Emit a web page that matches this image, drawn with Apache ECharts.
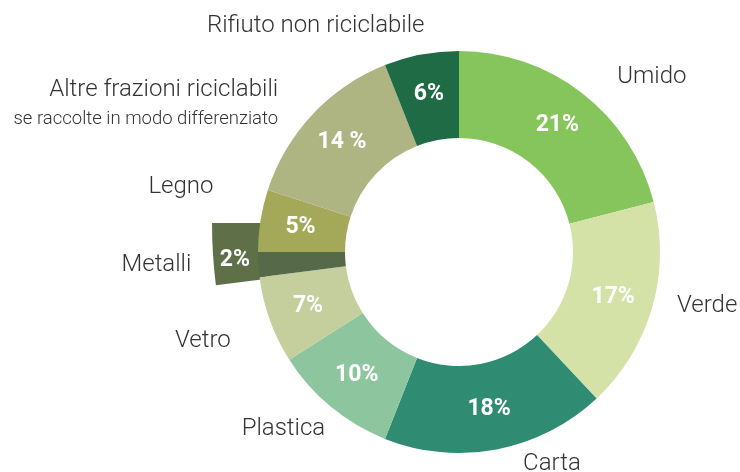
<!DOCTYPE html>
<html>
<head>
<meta charset="utf-8">
<script src="https://cdn.jsdelivr.net/npm/echarts@6/dist/echarts.min.js"></script>
<style>
  html, body { margin: 0; padding: 0; background: #fff; }
  #chart { width: 740px; height: 472px; }
</style>
</head>
<body>
<div id="chart"></div>
<script>
const categories = ['Umido', 'Verde', 'Carta', 'Plastica', 'Vetro', 'Metalli', 'Legno', 'Altre frazioni riciclabili', 'Rifiuto non riciclabile'];
const shares = [21, 17, 18, 10, 7, 2, 5, 14, 6];
const subNote = 'se raccolte in modo differenziato';
const colors = ['#86c55b', '#d4e1a7', '#2f8b71', '#8dc69e', '#c4cf9d', '#566a4a', '#a4a95a', '#aeb482', '#1e6b46'];
const highlight = 'Metalli';

// outside name labels: radial length, gap after line end, vertical nudge
const nameLen = [23, 0, 13, 23, 48, 0, 0, 21, 31];
const nameGap = [21, 25, 24, -9, -6, 67, 47, 19, -9];
const nameDy = [2, -2, 2, 4, 5, 0, -34, 3, 2];

const chart = echarts.init(document.getElementById('chart'), null, { renderer: 'canvas' });

const CX = 459, CY = 252;
const clear = 'rgba(0,0,0,0)';

const pctText = (p) => (p.dataIndex === 7 ? p.value + ' %' : p.value + '%');

const pctLabel = {
  show: true,
  position: 'inside',
  color: '#fff',
  fontFamily: 'Roboto',
  fontWeight: 'bold',
  fontSize: 23,
  formatter: pctText
};

const mainData = categories.map((name, i) => ({
  name,
  value: shares[i],
  itemStyle: { color: colors[i] },
  label: name === highlight ? { show: false } : undefined
}));

const nameData = categories.map((name, i) => ({
  name,
  value: shares[i],
  itemStyle: { color: clear },
  labelLine: { length: nameLen[i], length2: 0 },
  label: {
    distanceToLabelLine: nameGap[i],
    formatter: i === 7 ? '{a|' + name + '}\n{b|' + subNote + '}' : name
  }
}));

const bigData = categories.map((name, i) => ({
  name,
  value: shares[i],
  itemStyle: { color: name === highlight ? '#5f7049' : clear },
  label: { show: name === highlight }
}));

chart.setOption({
  animation: false,
  backgroundColor: '#fff',
  series: [
    {
      // enlarged Metalli wedge, sits behind the ring
      type: 'pie',
      z: 1,
      silent: true,
      center: [708, 223],
      radius: [446, 496],
      startAngle: 90,
      clockwise: true,
      avoidLabelOverlap: false,
      label: pctLabel,
      labelLine: { show: false },
      labelLayout: () => ({ dy: 7 }),
      emphasis: { disabled: true },
      data: bigData
    },
    {
      type: 'pie',
      z: 2,
      silent: true,
      center: [CX, CY],
      radius: [114, 201],
      startAngle: 90,
      clockwise: true,
      avoidLabelOverlap: false,
      label: pctLabel,
      labelLine: { show: false },
      emphasis: { disabled: true },
      data: mainData
    },
    {
      // transparent copy that only carries the category names
      type: 'pie',
      z: 3,
      silent: true,
      center: [CX, CY],
      radius: [114, 201],
      startAngle: 90,
      clockwise: true,
      avoidLabelOverlap: false,
      label: {
        show: true,
        position: 'outside',
        color: '#333',
        fontFamily: 'Roboto',
        fontWeight: 300,
        fontSize: 24,
        rich: {
          a: { fontFamily: 'Roboto', fontWeight: 300, fontSize: 24, color: '#333', lineHeight: 32, align: 'right' },
          b: { fontFamily: 'Roboto', fontWeight: 300, fontSize: 18.5, color: '#333', lineHeight: 26, align: 'right' }
        }
      },
      labelLine: { show: false },
      labelLayout: (p) => ({ dy: nameDy[p.dataIndex] }),
      emphasis: { disabled: true },
      data: nameData
    }
  ]
});
</script>
</body>
</html>
